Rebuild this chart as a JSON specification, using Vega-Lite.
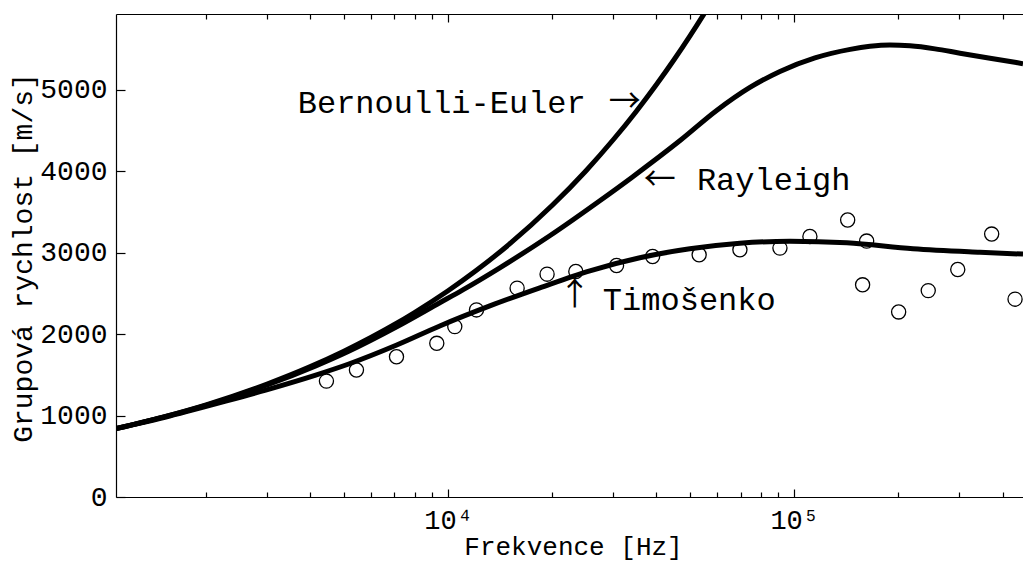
{
  "$schema": "https://vega.github.io/schema/vega-lite/v6.json",
  "width": 907,
  "height": 483,
  "autosize": {"type": "none"},
  "padding": {"left": 116, "top": 14, "right": 0, "bottom": 66},
  "background": "white",
  "config": {"view": {"stroke": null}, "font": "Liberation Mono"},
  "datasets": {
    "curves": [
      {"series": "Bernoulli-Euler", "f": 1098, "v": 839},
      {"series": "Bernoulli-Euler", "f": 1500, "v": 981},
      {"series": "Bernoulli-Euler", "f": 2000, "v": 1132},
      {"series": "Bernoulli-Euler", "f": 3000, "v": 1387},
      {"series": "Bernoulli-Euler", "f": 4000, "v": 1601},
      {"series": "Bernoulli-Euler", "f": 5000, "v": 1790},
      {"series": "Bernoulli-Euler", "f": 6000, "v": 1961},
      {"series": "Bernoulli-Euler", "f": 7000, "v": 2118},
      {"series": "Bernoulli-Euler", "f": 8000, "v": 2265},
      {"series": "Bernoulli-Euler", "f": 10000, "v": 2532},
      {"series": "Bernoulli-Euler", "f": 12000, "v": 2774},
      {"series": "Bernoulli-Euler", "f": 15000, "v": 3101},
      {"series": "Bernoulli-Euler", "f": 20000, "v": 3581},
      {"series": "Bernoulli-Euler", "f": 25000, "v": 4003},
      {"series": "Bernoulli-Euler", "f": 30000, "v": 4386},
      {"series": "Bernoulli-Euler", "f": 35000, "v": 4737},
      {"series": "Bernoulli-Euler", "f": 40000, "v": 5064},
      {"series": "Bernoulli-Euler", "f": 45000, "v": 5371},
      {"series": "Bernoulli-Euler", "f": 50000, "v": 5662},
      {"series": "Bernoulli-Euler", "f": 55000, "v": 5938},
      {"series": "Bernoulli-Euler", "f": 60000, "v": 6202},
      {"series": "Rayleigh", "f": 1098, "v": 839},
      {"series": "Rayleigh", "f": 1500, "v": 980},
      {"series": "Rayleigh", "f": 2278, "v": 1200},
      {"series": "Rayleigh", "f": 3000, "v": 1375},
      {"series": "Rayleigh", "f": 4146, "v": 1610},
      {"series": "Rayleigh", "f": 5164, "v": 1790},
      {"series": "Rayleigh", "f": 7107, "v": 2090},
      {"series": "Rayleigh", "f": 9463, "v": 2385},
      {"series": "Rayleigh", "f": 11030, "v": 2543},
      {"series": "Rayleigh", "f": 14105, "v": 2814},
      {"series": "Rayleigh", "f": 19670, "v": 3208},
      {"series": "Rayleigh", "f": 27440, "v": 3638},
      {"series": "Rayleigh", "f": 33880, "v": 3921},
      {"series": "Rayleigh", "f": 46800, "v": 4376},
      {"series": "Rayleigh", "f": 59680, "v": 4745},
      {"series": "Rayleigh", "f": 74470, "v": 5028},
      {"series": "Rayleigh", "f": 90950, "v": 5225},
      {"series": "Rayleigh", "f": 114800, "v": 5391},
      {"series": "Rayleigh", "f": 145100, "v": 5496},
      {"series": "Rayleigh", "f": 165500, "v": 5533},
      {"series": "Rayleigh", "f": 189100, "v": 5549},
      {"series": "Rayleigh", "f": 216000, "v": 5539},
      {"series": "Rayleigh", "f": 255100, "v": 5502},
      {"series": "Rayleigh", "f": 301200, "v": 5449},
      {"series": "Rayleigh", "f": 367900, "v": 5387},
      {"series": "Rayleigh", "f": 458100, "v": 5320},
      {"series": "Timošenko", "f": 1098, "v": 839},
      {"series": "Timošenko", "f": 1569, "v": 995},
      {"series": "Timošenko", "f": 2278, "v": 1177},
      {"series": "Timošenko", "f": 2973, "v": 1313},
      {"series": "Timošenko", "f": 4146, "v": 1497},
      {"series": "Timošenko", "f": 5164, "v": 1633},
      {"series": "Timošenko", "f": 7107, "v": 1866},
      {"series": "Timošenko", "f": 9463, "v": 2100},
      {"series": "Timošenko", "f": 13200, "v": 2346},
      {"series": "Timošenko", "f": 18410, "v": 2568},
      {"series": "Timošenko", "f": 25680, "v": 2777},
      {"series": "Timošenko", "f": 35810, "v": 2937},
      {"series": "Timošenko", "f": 49950, "v": 3047},
      {"series": "Timošenko", "f": 69680, "v": 3115},
      {"series": "Timošenko", "f": 97190, "v": 3140},
      {"series": "Timošenko", "f": 142000, "v": 3121},
      {"series": "Timošenko", "f": 220400, "v": 3047},
      {"series": "Timošenko", "f": 344100, "v": 3004},
      {"series": "Timošenko", "f": 458100, "v": 2982}
    ],
    "measured": [
      {"f": 4452, "v": 1423},
      {"f": 5436, "v": 1559},
      {"f": 7095, "v": 1722},
      {"f": 9276, "v": 1887},
      {"f": 10456, "v": 2092},
      {"f": 12080, "v": 2297},
      {"f": 15830, "v": 2564},
      {"f": 19320, "v": 2736},
      {"f": 23390, "v": 2768},
      {"f": 30670, "v": 2842},
      {"f": 38980, "v": 2953},
      {"f": 53130, "v": 2974},
      {"f": 69680, "v": 3035},
      {"f": 90940, "v": 3056},
      {"f": 111000, "v": 3199},
      {"f": 142700, "v": 3401},
      {"f": 161900, "v": 3142},
      {"f": 157600, "v": 2605},
      {"f": 200300, "v": 2272},
      {"f": 243900, "v": 2534},
      {"f": 296800, "v": 2793},
      {"f": 371900, "v": 3228},
      {"f": 434500, "v": 2429}
    ],
    "labels": [
      {"label": "Bernoulli-Euler", "f": 3678, "v": 4717},
      {"label": "Rayleigh", "f": 52340, "v": 3771},
      {"label": "Timošenko", "f": 28000, "v": 2297}
    ],
    "arrows": [
      {"label": "→", "f": 32410, "v": 4844},
      {"label": "←", "f": 40910, "v": 3896},
      {"label": "↑", "f": 23240, "v": 2481}
    ]
  },
  "layer": [
    {
      "data": {"name": "curves"},
      "mark": {"type": "line", "color": "black", "strokeWidth": 5, "clip": true, "interpolate": "monotone"},
      "encoding": {
        "x": {
          "field": "f", "type": "quantitative",
          "scale": {"type": "log", "domain": [1098, 458100], "nice": false},
          "axis": {
            "orient": "bottom",
            "values": [2000, 3000, 4000, 5000, 6000, 7000, 8000, 9000, 10000, 20000, 30000, 40000, 50000, 60000, 70000, 80000, 90000, 100000, 200000, 300000, 400000],
            "labelExpr": "datum.value == 10000 ? '10⁴' : (datum.value == 100000 ? '10⁵' : '')",
            "tickSize": {"condition": {"test": "datum.value == 10000 || datum.value == 100000", "value": -8}, "value": -5},
            "labelPadding": 39,
            "labelBaseline": "alphabetic",
            "labelFontSize": 27,
            "labelFont": "Liberation Mono",
            "labelColor": "black",
            "labelFlush": false,
            "labelOverlap": false,
            "tickColor": "black",
            "tickWidth": 1.2,
            "domainColor": "black",
            "domainWidth": 1.2,
            "grid": false,
            "title": "Frekvence [Hz]",
            "titleFont": "Liberation Mono",
            "titleFontSize": 26,
            "titleFontWeight": "normal",
            "titleColor": "black",
            "titleX": 457,
            "titleY": 57,
            "titleBaseline": "alphabetic",
            "titleAlign": "center"
          }
        },
        "y": {
          "field": "v", "type": "quantitative",
          "scale": {"domain": [0, 5930], "nice": false, "zero": false},
          "axis": {
            "values": [0, 1000, 2000, 3000, 4000, 5000],
            "format": "d",
            "tickSize": -9,
            "labelPadding": 18,
            "labelFontSize": 28,
            "labelFont": "Liberation Mono",
            "labelColor": "black",
            "labelBaseline": "middle",
            "labelFlush": false,
            "labelOverlap": false,
            "tickColor": "black",
            "tickWidth": 1.2,
            "domainColor": "black",
            "domainWidth": 1.2,
            "grid": false,
            "title": "Grupová rychlost [m/s]",
            "titleFont": "Liberation Mono",
            "titleFontSize": 28,
            "titleFontWeight": "normal",
            "titleColor": "black",
            "titleX": -93,
            "titleY": 243.5,
            "titleBaseline": "middle",
            "titleAlign": "center",
            "titleAngle": 270
          }
        },
        "detail": {"field": "series"}
      }
    },
    {
      "data": {"name": "measured"},
      "mark": {"type": "point", "shape": "circle", "filled": false, "color": "black", "strokeWidth": 1.3, "size": 200, "opacity": 1},
      "encoding": {
        "x": {
          "field": "f", "type": "quantitative",
          "axis": {
            "orient": "top",
            "values": [2000, 3000, 4000, 5000, 6000, 7000, 8000, 9000, 10000, 20000, 30000, 40000, 50000, 60000, 70000, 80000, 90000, 100000, 200000, 300000, 400000],
            "labels": false,
            "tickSize": {"condition": {"test": "datum.value == 10000 || datum.value == 100000", "value": -8}, "value": -5},
            "tickColor": "black",
            "tickWidth": 1.2,
            "domainColor": "black",
            "domainWidth": 1.2,
            "grid": false,
            "title": null
          }
        },
        "y": {"field": "v", "type": "quantitative", "axis": null}
      }
    },
    {
      "data": {"name": "labels"},
      "mark": {"type": "text", "align": "left", "baseline": "alphabetic", "fontSize": 32, "font": "Liberation Mono", "color": "black"},
      "encoding": {
        "x": {"field": "f", "type": "quantitative", "axis": null},
        "y": {"field": "v", "type": "quantitative", "axis": null},
        "text": {"field": "label"}
      }
    },
    {
      "data": {"name": "arrows"},
      "mark": {"type": "text", "align": "center", "baseline": "middle", "fontSize": 32, "font": "Noto Sans CJK JP", "color": "black"},
      "encoding": {
        "x": {"field": "f", "type": "quantitative", "axis": null},
        "y": {"field": "v", "type": "quantitative", "axis": null},
        "text": {"field": "label"}
      }
    }
  ],
  "resolve": {"axis": {"x": "independent", "y": "independent"}}
}
